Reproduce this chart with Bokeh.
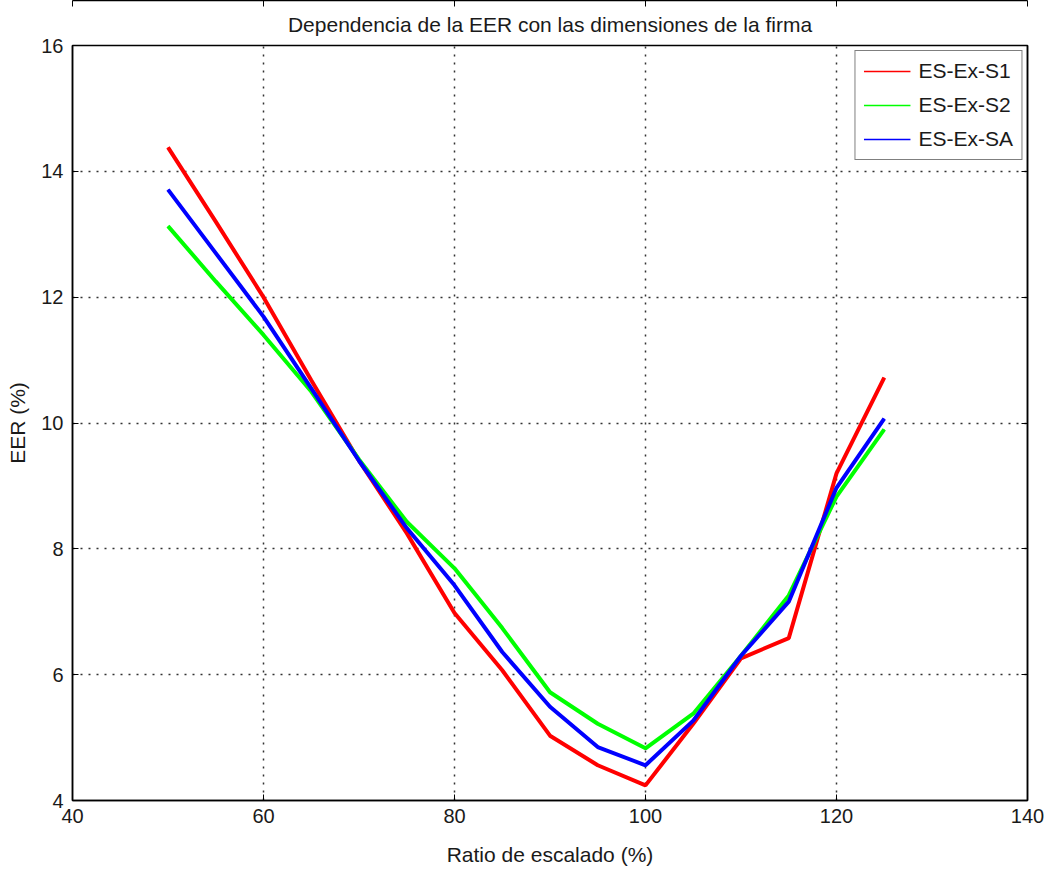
from bokeh.plotting import figure
from bokeh.models import Range1d, LinearAxis, FixedTicker, Legend, LegendItem, Title
from bokeh.embed import file_html
from bokeh.resources import INLINE

ratio = [50, 55, 60, 65, 70, 75, 80, 85, 90, 95, 100, 105, 110, 115, 120, 125]
s1 = [14.38, 13.2, 12.0, 10.68, 9.40, 8.25, 6.98, 6.07, 5.03, 4.56, 4.24, 5.22, 6.26, 6.58, 9.20, 10.72]
s2 = [13.13, 12.25, 11.40, 10.50, 9.42, 8.43, 7.69, 6.74, 5.72, 5.22, 4.83, 5.38, 6.30, 7.26, 8.83, 9.90]
sa = [13.71, 12.70, 11.69, 10.55, 9.40, 8.33, 7.42, 6.36, 5.49, 4.85, 4.56, 5.27, 6.30, 7.16, 8.97, 10.07]
names = ["ES-Ex-S1", "ES-Ex-S2", "ES-Ex-SA"]
colors = ["#ff0000", "#00ff00", "#0000ff"]
xticks = [40, 60, 80, 100, 120, 140]
yticks = [4, 6, 8, 10, 12, 14, 16]

FONT = "Liberation Sans"
TXT = "#1a1a1a"

p = figure(width=1054, height=871, output_backend="svg", toolbar_location=None,
           x_range=Range1d(40, 140), y_range=Range1d(4, 16),
           min_border_left=72, min_border_right=27, min_border_top=0, min_border_bottom=71)
t = Title(text="Dependencia de la EER con las dimensiones de la firma", align="center",
          text_font=FONT, text_font_size="21px", text_font_style="normal", text_color=TXT,
          standoff=20)
p.add_layout(t, "above")

p.outline_line_color = "black"
p.outline_line_width = 1.5
p.background_fill_color = "white"
p.border_fill_color = "white"

for ax in (p.xaxis[0], p.yaxis[0]):
    ax.major_label_text_font = FONT
    ax.major_label_text_font_size = "20px"
    ax.major_label_text_color = TXT
    ax.axis_label_text_font = FONT
    ax.axis_label_text_font_size = "21px"
    ax.axis_label_text_font_style = "normal"
    ax.axis_label_text_color = TXT
    ax.axis_line_color = "black"
    ax.axis_line_width = 1.5
    ax.major_tick_in = 6
    ax.major_tick_out = 0
    ax.minor_tick_line_color = None
    ax.major_tick_line_color = "black"
p.xaxis[0].ticker = FixedTicker(ticks=xticks)
p.yaxis[0].ticker = FixedTicker(ticks=yticks)
p.xaxis[0].axis_label = "Ratio de escalado (%)"
p.yaxis[0].axis_label = "EER (%)"
p.xaxis[0].axis_label_standoff = 17
p.yaxis[0].axis_label_standoff = 9
p.xaxis[0].major_label_standoff = 8
p.yaxis[0].major_label_standoff = 9

top = LinearAxis(ticker=FixedTicker(ticks=xticks),
                 major_label_overrides={v: "" for v in xticks},
                 major_tick_in=6, major_tick_out=0, minor_tick_line_color=None,
                 axis_line_color="black", axis_line_width=1.5, major_label_standoff=0)
right = LinearAxis(ticker=FixedTicker(ticks=yticks),
                   major_label_overrides={v: "" for v in yticks},
                   major_tick_in=6, major_tick_out=0, minor_tick_line_color=None,
                   axis_line_color="black", axis_line_width=1.5, major_label_standoff=0)
p.add_layout(top, "above")
p.add_layout(right, "right")

p.xgrid.ticker = FixedTicker(ticks=xticks)
p.ygrid.ticker = FixedTicker(ticks=yticks)
for g in (p.xgrid[0], p.ygrid[0]):
    g.grid_line_color = "#333333"
    g.grid_line_dash = "2 6"
    g.grid_line_width = 1.5

# thin lines used for the legend glyphs (hidden under the thick lines)
thin = []
for ys, c in zip([s1, s2, sa], colors):
    thin.append(p.line(ratio, ys, line_color=c, line_width=1.5))
for ys, c in zip([s1, s2, sa], colors):
    p.line(ratio, ys, line_color=c, line_width=4)

legend = Legend(items=[LegendItem(label=n, renderers=[r]) for n, r in zip(names, thin)],
                location="top_right", label_text_font=FONT, label_text_font_size="21px",
                label_text_color=TXT, border_line_color="black", border_line_width=1.5,
                background_fill_alpha=1.0, glyph_width=47, glyph_height=24, label_height=24,
                label_standoff=8, spacing=10, padding=8, margin=5)
p.add_layout(legend)

open("out.html", "w").write(file_html(p, INLINE))
